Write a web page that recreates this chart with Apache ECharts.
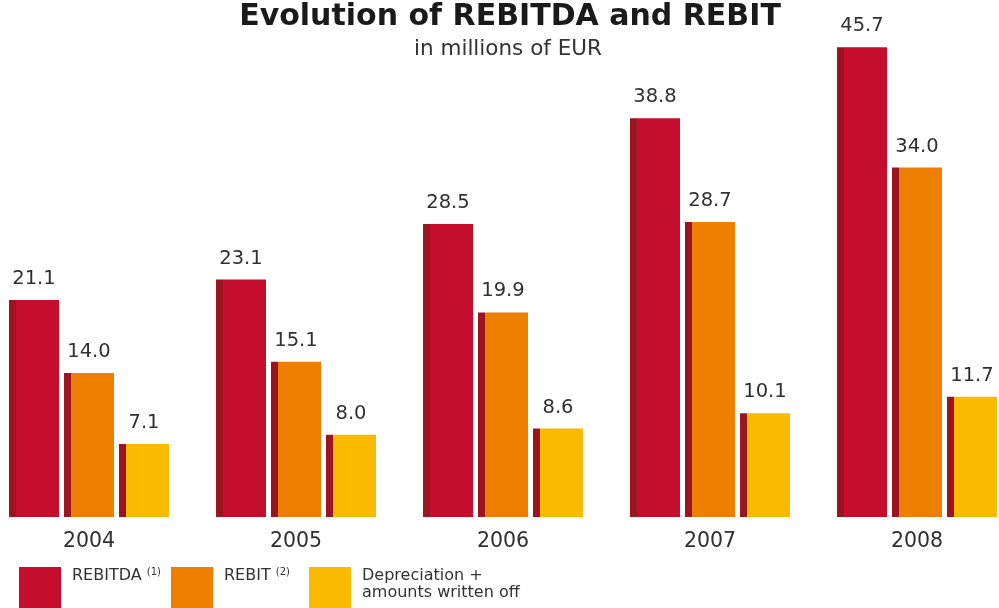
<!DOCTYPE html>
<html>
<head>
<meta charset="utf-8">
<style>
  html, body { margin: 0; padding: 0; background: #fff; }
  #chart { width: 999px; height: 608px; }
</style>
<script src="https://cdn.jsdelivr.net/npm/echarts@6/dist/echarts.min.js"></script>
</head>
<body>
<div id="chart"></div>
<script>
// Annual figures, millions of EUR
var years = ['2004', '2005', '2006', '2007', '2008'];
var rebitda = [21.1, 23.1, 28.5, 38.8, 45.7];
var rebit = [14.0, 15.1, 19.9, 28.7, 34.0];
var depreciation = [7.1, 8.0, 8.6, 10.1, 11.7];

var seriesNames = ['REBITDA', 'REBIT', 'Depreciation + amounts written off'];

var FONT = 'DejaVu Sans';
var EDGE = '#9B1521';
var COLORS = ['#C50D2D', '#EE7F00', '#FABA00'];

// Bar fill with a darker strip along the left side
function barFill(main) {
  return new echarts.graphic.LinearGradient(0, 0, 1, 0, [
    { offset: 0, color: EDGE },
    { offset: 0.14, color: EDGE },
    { offset: 0.14, color: main },
    { offset: 1, color: main }
  ]);
}

function barSeries(name, data, color) {
  return {
    name: name,
    type: 'bar',
    data: data,
    barWidth: 50,
    barGap: '10%',
    itemStyle: { color: barFill(color) },
    emphasis: { disabled: true },
    label: {
      show: true,
      position: 'top',
      distance: 11,
      fontFamily: FONT,
      fontSize: 19.5,
      color: '#303030',
      formatter: function (p) { return p.value.toFixed(1); }
    }
  };
}

var legendText = {
  fontFamily: FONT,
  fontSize: 16,
  color: '#333',
  lineHeight: 17,
  padding: [0, 0, 6, 6],
  rich: {
    s: { fontFamily: FONT, fontSize: 10, verticalAlign: 'top', lineHeight: 17, padding: [0, 0, 6, 0] }
  }
};

function legendFor(idx, left, formatter) {
  return {
    left: left,
    top: 567,
    padding: 0,
    orient: 'horizontal',
    itemWidth: 42,
    itemHeight: 41,
    icon: 'rect',
    selectedMode: false,
    data: [{ name: seriesNames[idx], itemStyle: { color: COLORS[idx] } }],
    formatter: formatter,
    textStyle: legendText
  };
}

var chart = echarts.init(document.getElementById('chart'), null, { renderer: 'canvas' });

chart.setOption({
  animation: false,
  backgroundColor: '#fff',
  title: [
    {
      text: 'Evolution of REBITDA and REBIT',
      left: 510,
      top: 2,
      padding: 0,
      textAlign: 'center',
      textStyle: { fontFamily: FONT, fontWeight: 'bold', fontSize: 30, color: '#1a1a1a' }
    },
    {
      text: 'in millions of EUR',
      left: 508,
      top: 38,
      padding: 0,
      textAlign: 'center',
      textStyle: { fontFamily: FONT, fontWeight: 'normal', fontSize: 21.5, color: '#333' }
    }
  ],
  legend: [
    legendFor(0, 19, function () { return 'REBITDA {s|(1)}\n '; }),
    legendFor(1, 171, function () { return 'REBIT {s|(2)}\n '; }),
    legendFor(2, 309, function () { return 'Depreciation +\namounts written off'; })
  ],
  grid: { left: 89, width: 828, top: 3, bottom: 91, containLabel: false },
  xAxis: {
    type: 'category',
    data: years,
    boundaryGap: false,
    axisLine: { show: false },
    axisTick: { show: false },
    axisLabel: { margin: 14, fontFamily: FONT, fontSize: 20.5, color: '#303030' }
  },
  yAxis: {
    type: 'value',
    min: 0,
    max: 50,
    show: false,
    splitLine: { show: false }
  },
  series: [
    barSeries(seriesNames[0], rebitda, COLORS[0]),
    barSeries(seriesNames[1], rebit, COLORS[1]),
    barSeries(seriesNames[2], depreciation, COLORS[2])
  ]
});
</script>
</body>
</html>
